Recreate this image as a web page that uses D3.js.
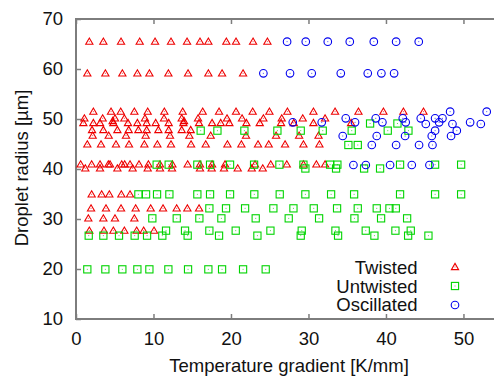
<!DOCTYPE html>
<html>
<head>
<meta charset="utf-8">
<script src="https://cdn.jsdelivr.net/npm/d3@7"></script>
<style>
  html, body { margin: 0; padding: 0; background: #fff; }
  svg { display: block; }
  text { font-family: "Liberation Sans", Arial, Helvetica, sans-serif; fill: #111; }
</style>
</head>
<body>
<svg id="chart" width="494" height="376"></svg>
<script>
// ---- data (rows: y value, list of x values) ----
const xTicks = [0, 10, 20, 30, 40, 50];
const yTicks = [10, 20, 30, 40, 50, 60, 70];
const seriesNames = ["Twisted", "Untwisted", "Oscillated"];

const twistedRows = [
  [65.47, [1.72, 3.53, 5.81, 8.22, 10.2, 12.26, 14.33, 16.0, 17.08, 19.4, 20.65, 22.85, 24.7]],
  [59.13, [1.46, 3.79, 5.98, 7.92, 9.47, 11.92, 14.46, 17.08, 18.85, 21.56]],
  [51.47, [2.24, 4.52, 5.77, 7.53, 9.25, 11.4, 13.77, 16.35, 18.46, 20.65, 22.8, 24.96, 27.28, 30.64, 33.43, 36.45, 39.67, 42.25, 44.84]],
  [50.13, [1.08, 3.44, 5.03, 6.24, 8.9, 11.36, 13.64, 15.75, 19.49, 21.43, 24.18, 26.55, 29.26, 32.14]],
  [49.6,  [4.73, 13.94]],
  [49.2,  [0.95, 2.24, 3.1, 4.82, 6.71, 7.92, 9.12, 10.28, 11.96, 13.86, 15.88, 17.56, 18.67, 19.79, 21.99, 23.71, 26.46, 28.1, 30.64, 35.5]],
  [47.8,  [2.07, 3.53, 5.34, 6.8, 8.05, 9.12, 10.63, 11.96, 13.64, 14.8]],
  [46.67, [2.15, 4.22, 6.45, 8.99, 12.13, 14.63, 17.38, 21.94, 25.82, 28.79, 31.3]],
  [44.93, [1.46, 3.23, 5.16, 6.84, 8.82, 10.5, 12.26, 14.85, 16.74, 19.54, 21.34, 23.49, 24.87, 26.98, 29.35, 31.41]],
  [40.93, [0.6, 2.02, 3.1, 4.17, 4.39, 5.9, 6.28, 6.97, 8.13, 9.34, 10.84, 12.44, 14.41, 16.0, 17.56, 19.23, 23.1, 25.13, 27.2, 29.35, 31.02, 32.14]],
  [40.13, [1.2, 3.1, 5.34, 7.31, 9.25, 10.84, 12.39, 16.0, 17.51, 19.1, 20.87, 22.68, 24.1]],
  [34.93, [2.02, 3.31, 4.3, 5.85, 6.97]],
  [32.13, [1.94, 3.87, 5.81, 7.7, 9.64, 11.23, 12.99, 14.37, 15.88]],
  [30.13, [1.59, 3.53, 5.03, 7.53]],
  [27.67, [1.72, 3.61, 4.82, 6.24, 7.83, 8.73, 10.07]]
];

const untwistedRows = [
  [49.1,  [37.95, 41.48]],
  [47.67, [16.09, 18.25, 21.73, 25.99, 29.0, 31.84, 35.58, 40.23, 42.9]],
  [44.8,  [35.15, 36.36]],
  [40.87, [10.41, 11.96, 15.66, 17.3, 19.88, 22.98, 26.25, 29.35, 32.79, 33.73, 41.82, 46.34, 49.7]],
  [40.1,  [29.6, 33.56, 37.18, 39.24]],
  [34.93, [8.05, 9.04, 10.46, 12.05, 15.66, 17.3, 19.88, 23.01, 26.29, 29.6, 32.92, 35.89, 41.82, 46.34, 49.7]],
  [32.13, [17.21, 19.36, 21.82, 25.47, 28.06, 30.68, 33.69, 36.36, 38.81, 40.45, 41.27]],
  [30.13, [9.85, 13.0, 15.92, 18.76, 23.19, 27.45, 31.37, 35.93, 39.37, 42.73]],
  [27.67, [11.62, 14.07, 17.21, 20.61, 25.09, 29.13, 33.48, 37.39, 41.22, 43.2]],
  [26.67, [1.64, 3.53, 5.55, 7.57, 9.17, 11.14, 14.41, 18.46, 23.41, 29.0, 33.82, 38.51, 42.86, 45.48]],
  [19.93, [1.46, 3.79, 5.98, 7.92, 9.47, 11.92, 14.46, 17.08, 18.85, 21.56, 24.48]]
];

const oscillatedRows = [
  [65.47, [27.24, 29.65, 32.49, 35.33, 38.43, 41.31, 44.23]],
  [59.13, [24.18, 27.62, 30.42, 34.17, 37.65, 39.41, 41.05]],
  [51.47, [48.28, 53.0]],
  [50.13, [34.81, 38.68, 42.17, 44.49, 46.34, 47.29]],
  [49.33, [27.97, 31.71, 36.01, 39.54, 42.55, 46.86, 50.86]],
  [49.0,  [45.14, 48.58, 52.24]],
  [47.67, [46.34, 49.14]],
  [46.6,  [34.42, 38.81, 42.47, 45.91, 48.4]],
  [44.8,  [38.17, 41.31, 44.27, 46.0]],
  [40.8,  [35.8, 37.4, 40.53, 43.33, 45.61]]
];

// ---- build ----
const flatten = rows => rows.flatMap(([yv, xs]) => xs.map(xv => ({x: xv, y: yv})));
const series = [
  {name: seriesNames[0], color: "#ee0000", shape: "tri", pts: flatten(twistedRows)},
  {name: seriesNames[1], color: "#00d400", shape: "sq",  pts: flatten(untwistedRows)},
  {name: seriesNames[2], color: "#0000ee", shape: "circ", pts: flatten(oscillatedRows)}
];

const svg = d3.select("#chart");
const x = d3.scaleLinear().domain([0, 55]).range([76, 502.2]);
const y = d3.scaleLinear().domain([10, 70]).range([319, 19]);
const FONT = 18.5;
const frameColor = "#7d7d7d";

// axes (inward ticks)
const gl = svg.append("g").attr("transform", "translate(76,0)")
  .call(d3.axisLeft(y).tickValues(yTicks).tickSize(-5).tickPadding(13));
const gb = svg.append("g").attr("transform", "translate(0,319)")
  .call(d3.axisBottom(x).tickValues(xTicks).tickSize(-5).tickPadding(13));
const gt = svg.append("g").attr("transform", "translate(0,19)")
  .call(d3.axisTop(x).tickValues(xTicks).tickSize(-5).tickFormat(""));
[gl, gb, gt].forEach(g => {
  g.select(".domain").remove();
  g.selectAll(".tick line").attr("stroke", frameColor).attr("stroke-width", 1.5);
  g.selectAll(".tick text").style("font-size", FONT + "px")
    .style("font-family", '"Liberation Sans", Arial, sans-serif').attr("fill", "#111");
});

// frame
svg.append("rect")
  .attr("x", x(0)).attr("y", y(70))
  .attr("width", x(55) - x(0)).attr("height", y(10) - y(70))
  .attr("fill", "none").attr("stroke", frameColor).attr("stroke-width", 2);

// markers
function drawMarker(g, shape, color, cx, cy) {
  if (shape === "tri") {
    g.append("path")
      .attr("d", `M${cx},${cy - 3.6}L${cx + 3.6},${cy + 2.6}L${cx - 3.6},${cy + 2.6}Z`)
      .attr("fill", "none").attr("stroke", color).attr("stroke-width", 1.1);
  } else if (shape === "sq") {
    g.append("rect").attr("x", cx - 3.6).attr("y", cy - 3.6)
      .attr("width", 7.2).attr("height", 7.2)
      .attr("fill", "none").attr("stroke", color).attr("stroke-width", 1.1);
  } else {
    g.append("circle").attr("cx", cx).attr("cy", cy).attr("r", 3.8)
      .attr("fill", "none").attr("stroke", color).attr("stroke-width", 1.1);
  }
  g.append("rect").attr("x", cx - 0.5).attr("y", cy - 0.5)
    .attr("width", 1).attr("height", 1).attr("fill", color).attr("opacity", 0.7);
}

const plot = svg.append("g");
series.forEach(s => {
  const g = plot.append("g").attr("class", "series-" + s.shape);
  s.pts.forEach(p => drawMarker(g, s.shape, s.color, x(p.x), y(p.y)));
});

// legend
const legendBase = [274, 292.5, 311];
const legendSym = [267, 286, 305];
series.forEach((s, i) => {
  svg.append("text").attr("x", 417.5).attr("y", legendBase[i])
    .attr("text-anchor", "end").style("font-size", FONT + "px").text(s.name);
  drawMarker(svg.append("g"), s.shape, s.color, 455, legendSym[i]);
});

// axis titles
svg.append("text").attr("x", 289).attr("y", 372).attr("text-anchor", "middle")
  .style("font-size", FONT + "px").text("Temperature gradient [K/mm]");
svg.append("text").attr("transform", "translate(28,168) rotate(-90)")
  .attr("text-anchor", "middle").style("font-size", FONT + "px").text("Droplet radius [µm]");
</script>
</body>
</html>
